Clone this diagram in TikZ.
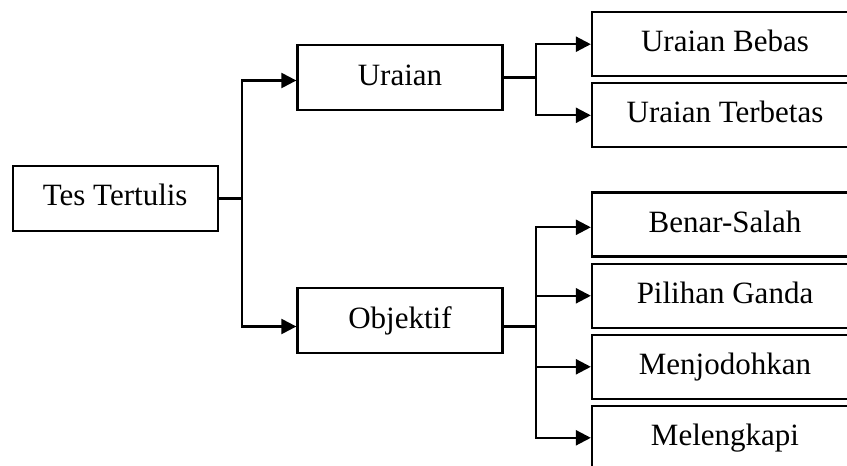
\documentclass[tikz,border=0pt]{standalone}
\usepackage{fontspec}
\setmainfont{Liberation Serif}
\usetikzlibrary{arrows.meta}
\begin{document}
\begin{tikzpicture}[x=1pt,y=-1pt,
  box/.style={draw,line width=2.3pt,inner sep=0pt,
    text height=21.5pt,text depth=6.4pt,
    font=\fontsize{31}{36}\selectfont},
  midbox/.style={box,minimum width=205pt,minimum height=65pt},
  leafbox/.style={box,minimum width=266pt,minimum height=64pt},
  conn/.style={line width=2.3pt},
  arr/.style={conn,-{Triangle[length=15pt,width=15pt]}}]
\path[use as bounding box] (0,0) rectangle (847,466);
\clip (0,0) rectangle (847,466);

% root
\node[midbox] (tes) at (115.2,198.4) {Tes Tertulis};

% second level
\node[midbox] (ura) at (400,77.5) {Uraian};
\node[midbox] (obj) at (400,320.5) {Objektif};

% leaves of Uraian
\node[leafbox] (beb) at (725,44.2) {Uraian Bebas};
\node[leafbox] (ter) at (725,115.3) {Uraian Terbetas};

% leaves of Objektif
\node[leafbox] (bs)  at (725,224.5) {Benar-Salah};
\node[leafbox] (pg)  at (725,295.8) {Pilihan Ganda};
\node[leafbox] (mj)  at (725,366.8) {Menjodohkan};
\node[leafbox] (ml)  at (725,437.8) {Melengkapi};

% junction points
\coordinate (j1) at (242,198.4);
\coordinate (j2) at (536,77.5);
\coordinate (j3) at (536,326.5);

% root to second level
\draw[conn] (tes.east) -- (j1);
\draw[arr] (j1) |- ([yshift=-3pt]ura.west);
\draw[arr] (j1) |- ([yshift=-6pt]obj.west);

% Uraian branches
\draw[conn] (ura.east) -- (j2);
\draw[arr] (j2) |- (beb.west);
\draw[arr] (j2) |- (ter.west);

% Objektif branches
\draw[conn] ([yshift=-6pt]obj.east) -- (j3);
\draw[arr] (j3) |- ([yshift=-2.8pt]bs.west);
\draw[arr] (j3) |- (pg.west);
\draw[arr] (j3) |- (mj.west);
\draw[arr] (j3) |- (ml.west);
\end{tikzpicture}
\end{document}
